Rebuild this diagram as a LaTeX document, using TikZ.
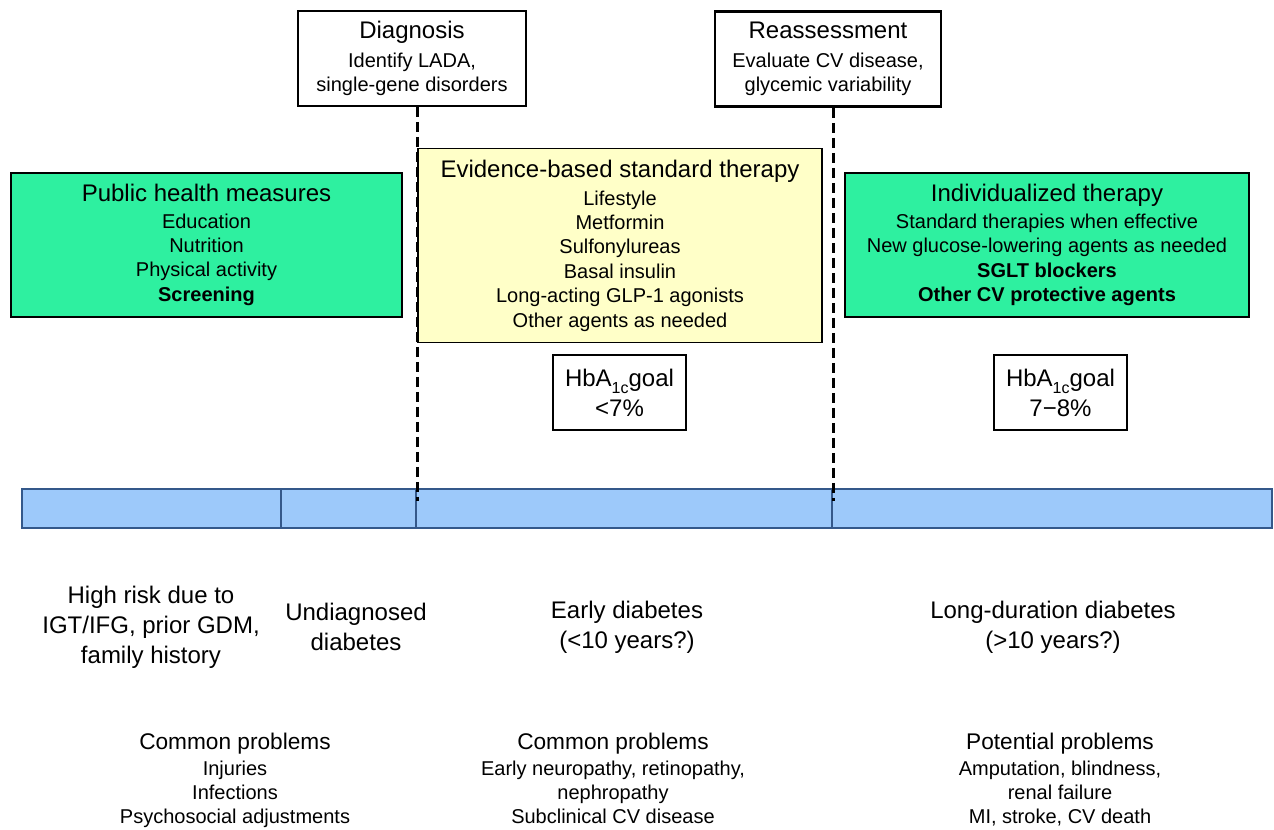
\documentclass[tikz,border=0pt]{standalone}
\usepackage{fontspec}
\setmainfont{Liberation Sans}
\definecolor{mint}{RGB}{46,240,160}
\definecolor{paleyellow}{RGB}{255,255,200}
\definecolor{barfill}{RGB}{157,201,250}
\definecolor{barline}{RGB}{52,88,138}
\newcommand{\hba}{HbA\raisebox{-0.55ex}{\fontsize{12}{12}\selectfont 1c}goal}
\begin{document}
\begin{tikzpicture}[x=0.75pt,y=-0.75pt,
  greenbox/.style={draw=black, line width=1.5pt, fill=mint, align=center, inner sep=0pt},
  yellowbox/.style={draw=black, line width=1.3pt, fill=paleyellow, align=center, inner sep=0pt},
  topbox/.style={draw=black, fill=white, align=center, inner sep=0pt, minimum height=71.25pt},
  goalbox/.style={draw=black, line width=1.5pt, fill=white, align=center, inner sep=0pt,
     minimum width=99.75pt, minimum height=56.25pt, font=\fontsize{18}{22.5}\selectfont},
  itemfont/.style={font=\fontsize{15}{18.3}\selectfont},
  seg/.style={draw=barline, line width=2.2pt, fill=barfill, inner sep=0pt, minimum height=29.25pt},
  phase/.style={align=center, font=\fontsize{18}{22.5}\selectfont},
  problems/.style={align=center, anchor=north, inner sep=0pt, font=\fontsize{15}{18}\selectfont},
  divider/.style={draw=black, line width=1.9pt, dash pattern=on 7.5pt off 3.75pt}
]
\useasboundingbox (0,0) rectangle (1274,830);

% bar segments
\node[seg, minimum width=194.25pt] (s1) at (151.5,508.5) {};
\node[seg, minimum width=101.25pt] (s2) at (348.5,508.5) {};
\node[seg, minimum width=312pt] (s3) at (624,508.5) {};
\node[seg, minimum width=330pt] (s4) at (1052,508.5) {};

% top boxes
\node[topbox, line width=1.4pt, minimum width=171pt, itemfont] (diag) at (412,58.5)
  {{\fontsize{18}{18}\selectfont Diagnosis}\\[3pt]Identify LADA,\\single-gene disorders};
\node[topbox, line width=2.2pt, minimum width=169.5pt, itemfont] (reas) at (828,59)
  {{\fontsize{18}{18}\selectfont Reassessment}\\[3pt]Evaluate CV disease,\\glycemic variability};

% dashed dividers
\coordinate (d1) at (s2.north east);
\coordinate (d2) at (s3.north east);
\draw[divider] (diag.south -| d1) -- ([yshift=-10pt]d1);
\draw[divider] (reas.south -| d2) -- ([yshift=-10pt]d2);

% therapy boxes
\node[greenbox, minimum width=293.25pt, minimum height=108pt, itemfont] (pub) at (206.5,245)
  {{\fontsize{18}{18}\selectfont Public health measures}\\[1.4pt]Education\\Nutrition\\Physical activity\\\textbf{Screening}};
\node[yellowbox, minimum width=303pt, minimum height=145.5pt, itemfont] (std) at (620,245.5)
  {{\fontsize{18}{18}\selectfont Evidence-based standard therapy}\\[2.7pt]Lifestyle\\Metformin\\Sulfonylureas\\Basal insulin\\Long-acting GLP-1 agonists\\Other agents as needed};
\node[greenbox, minimum width=303pt, minimum height=108pt, itemfont] (ind) at (1047,245)
  {{\fontsize{18}{18}\selectfont Individualized therapy}\\[2pt]Standard therapies when effective\\New glucose-lowering agents as needed\\\textbf{SGLT blockers}\\\textbf{Other CV protective agents}};

% goal boxes
\node[goalbox] (g1) at (619.5,392.5) {\hba\\<7\%};
\node[goalbox] (g2) at (1060.5,392.5) {\hba\\7−8\%};

% phase labels
\node[phase] (p1) at (151,627) {High risk due to\\IGT/IFG, prior GDM,\\family history};
\node[phase] (p2) at (356,627) {Undiagnosed\\diabetes};
\node[phase] (p3) at (627,627) {Early diabetes\\(<10 years?)};
\node[phase] (p4) at (1053,627) {Long-duration diabetes\\(>10 years?)};

% problems
\node[problems] (q1) at (235,733) {{\fontsize{17}{17}\selectfont Common problems}\\[1.5pt]Injuries\\Infections\\Psychosocial adjustments};
\node[problems] (q2) at (613,733) {{\fontsize{17}{17}\selectfont Common problems}\\[1.5pt]Early neuropathy, retinopathy,\\nephropathy\\Subclinical CV disease};
\node[problems] (q3) at (1060,733) {{\fontsize{17}{17}\selectfont Potential problems}\\[1.5pt]Amputation, blindness,\\renal failure\\MI, stroke, CV death};
\end{tikzpicture}
\end{document}
